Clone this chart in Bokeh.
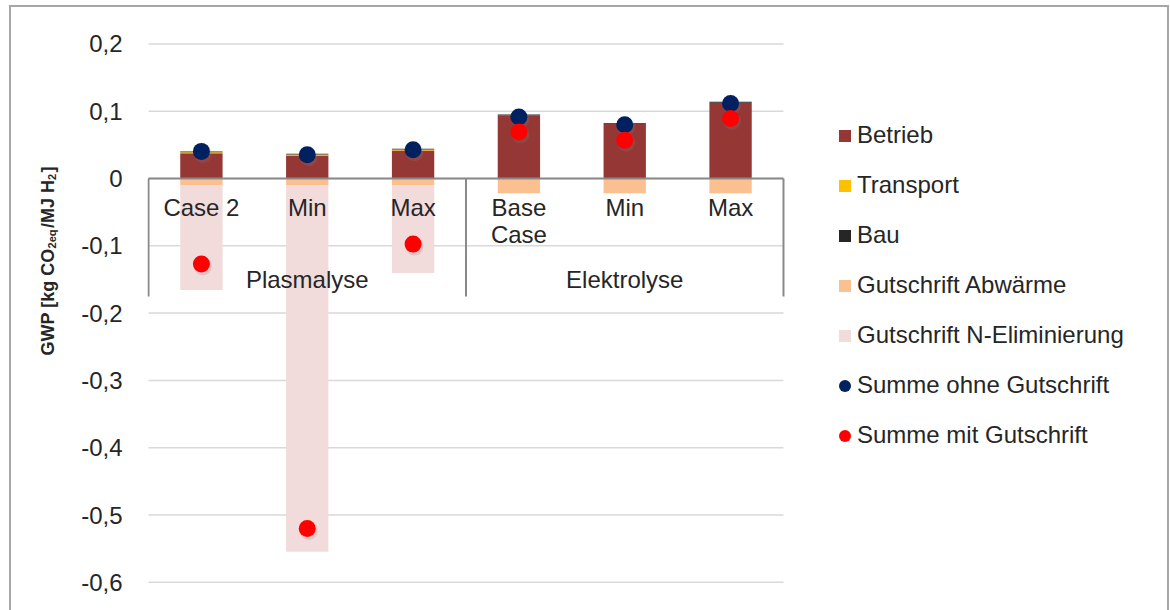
import numpy as np
from bokeh.plotting import figure
from bokeh.layouts import row
from bokeh.models import Range1d, Legend, LegendItem, FixedTicker
from bokeh.core.properties import value
from bokeh.embed import file_html
from bokeh.resources import INLINE

# ---- data -------------------------------------------------------------
groups = ["Plasmalyse", "Elektrolyse"]
cases = ["Case 2", "Min", "Max", "Base\nCase", "Min", "Max"]
betrieb = [0.0376, 0.0340, 0.0416, 0.0938, 0.0813, 0.1127]
transport = [0.0015, 0.0015, 0.0015, 0.0, 0.0, 0.0]
bau = [0.0012, 0.0012, 0.0012, 0.0012, 0.0012, 0.0012]
gutschrift_abwaerme = [-0.0105, -0.0105, -0.0105, -0.0220, -0.0220, -0.0220]
gutschrift_n_elim = [-0.155, -0.544, -0.130, 0.0, 0.0, 0.0]
summe_ohne = [0.0403, 0.0354, 0.0428, 0.0915, 0.0800, 0.1115]
summe_mit = [-0.127, -0.520, -0.0975, 0.069, 0.057, 0.089]
y_ticks = [-0.6, -0.5, -0.4, -0.3, -0.2, -0.1, 0.0, 0.1, 0.2]
y_tick_labels = ["-0,6", "-0,5", "-0,4", "-0,3", "-0,2", "-0,1", "0", "0,1", "0,2"]

FONT = "Liberation Sans"
FS = "24px"
TXT = "#262626"
BORDER = "#a6a6a6"

# page geometry (pixels): the row sits inside a thin frame line
ORIG_X, ORIG_Y = 11, 7          # top-left of the row content
RIGHT_X, BOTTOM_Y = 1167, 610
SPLIT_X = 75                    # title strip | chart
FRAME_X = 147                   # left edge of the plotting area
X0_PX, PX_X = 148.0, 105.83     # where x=0 sits, pixels per category
Y0_PX, PX_Y = 178.0, 673.0      # where y=0 sits, pixels per unit

# ---- chart ------------------------------------------------------------
p = figure(width=RIGHT_X - SPLIT_X, height=BOTTOM_Y - ORIG_Y,
           x_range=Range1d((FRAME_X - X0_PX) / PX_X, (RIGHT_X - X0_PX) / PX_X),
           y_range=Range1d(-(BOTTOM_Y - Y0_PX) / PX_Y, (Y0_PX - ORIG_Y) / PX_Y),
           output_backend="svg", toolbar_location=None, x_axis_location=None,
           min_border=0, min_border_left=FRAME_X - SPLIT_X)
p.background_fill_color = "white"
p.border_fill_color = "white"
p.outline_line_color = None
p.grid.visible = False

yax = p.yaxis[0]
yax.ticker = FixedTicker(ticks=y_ticks)
yax.major_label_overrides = dict(zip(y_ticks, y_tick_labels))
yax.axis_line_color = None
yax.major_tick_line_color = None
yax.minor_tick_line_color = None
yax.major_label_standoff = 19
yax.major_label_text_font = FONT
yax.major_label_text_font_size = FS
yax.major_label_text_color = TXT

n = len(cases)
x = np.arange(n) + 0.5

# horizontal gridlines across the category area only
p.segment(x0=[0] * len(y_ticks), x1=[n] * len(y_ticks), y0=y_ticks, y1=y_ticks,
          line_color="#d9d9d9", line_width=1.5)

# ---- stacked bars -----------------------------------------------------
b = np.array(betrieb)
t_top = b + np.array(transport)
bau_top = t_top + np.array(bau)
a = np.array(gutschrift_abwaerme)
n_bot = a + np.array(gutschrift_n_elim)
BW = 0.4

r_betrieb = p.vbar(x=x, width=BW, bottom=0, top=b, fill_color="#953735", line_color=None)
r_transport = p.vbar(x=x, width=BW, bottom=b, top=t_top, fill_color="#ffc000", line_color=None)
r_bau = p.vbar(x=x, width=BW, bottom=t_top, top=bau_top, fill_color="#262626", line_color=None)
r_abw = p.vbar(x=x, width=BW, bottom=a, top=0, fill_color="#fac090", line_color=None)
r_nel = p.vbar(x=x, width=BW, bottom=n_bot, top=a, fill_color="#f2dcdb", line_color=None)

# category axis through the zero line, with group separators
sep_depth = 118 / PX_Y
p.segment(x0=[0], x1=[n], y0=[0], y1=[0], line_color="#898989", line_width=2)
p.segment(x0=[0, n / 2, n], y0=[0, 0, 0], x1=[0, n / 2, n], y1=[-sep_depth] * 3,
          line_color="#898989", line_width=2)
p.text(x=x, y=[0] * n, text=cases, text_align="center", text_baseline="top",
       y_offset=15, text_font=value(FONT), text_font_size=FS, text_color=TXT,
       text_line_height=1.02)
p.text(x=[n / 4, 3 * n / 4], y=[0, 0], text=groups, text_align="center",
       text_baseline="middle", y_offset=101, text_font=value(FONT),
       text_font_size=FS, text_color=TXT)

# ---- totals as dots, with a soft drop shadow ----------------------------
dx, dy = 1.5 / PX_X, 2.5 / PX_Y
for vals in (summe_ohne, summe_mit):
    p.ellipse(x + dx, np.array(vals) - dy, width=18, height=18,
              width_units="screen", height_units="screen",
              fill_color="#7f7f7f", fill_alpha=0.22, line_color=None)
r_ohne = p.ellipse(x, summe_ohne, width=17, height=17, width_units="screen",
                   height_units="screen", fill_color="#002060", line_color=None)
r_mit = p.ellipse(x, summe_mit, width=17, height=17, width_units="screen",
                  height_units="screen", fill_color="#ff0000", line_color=None)

# ---- legend -------------------------------------------------------------
legend = Legend(items=[LegendItem(label="Betrieb", renderers=[r_betrieb]),
                       LegendItem(label="Transport", renderers=[r_transport]),
                       LegendItem(label="Bau", renderers=[r_bau]),
                       LegendItem(label="Gutschrift Abwärme", renderers=[r_abw]),
                       LegendItem(label="Gutschrift N-Eliminierung", renderers=[r_nel]),
                       LegendItem(label="Summe ohne Gutschrift", renderers=[r_ohne]),
                       LegendItem(label="Summe mit Gutschrift", renderers=[r_mit])],
                location=(690, 161), glyph_width=15, glyph_height=15,
                label_height=26, label_standoff=5, spacing=22,
                padding=0, margin=0, border_line_color=None, background_fill_alpha=0,
                label_text_font=FONT, label_text_font_size=FS, label_text_color=TXT)
p.add_layout(legend)

# ---- y axis title strip (with subscripts) ------------------------------
t = figure(width=SPLIT_X - ORIG_X, height=BOTTOM_Y - ORIG_Y,
           x_range=Range1d(ORIG_X, SPLIT_X), y_range=Range1d(BOTTOM_Y, ORIG_Y),
           output_backend="svg", toolbar_location=None,
           x_axis_location=None, y_axis_location=None, min_border=0)
t.outline_line_color = None
t.grid.visible = False
t.background_fill_color = "white"
t.border_fill_color = "white"

# Arial-bold advance widths (per em) for the characters in the title
adv = {"G": .778, "W": .944, "P": .667, " ": .278, "[": .333, "k": .556, "g": .611,
       "C": .722, "O": .778, "/": .278, "M": .833, "J": .556, "H": .722, "]": .333,
       "2": .556, "e": .556, "q": .611}
pieces = [("GWP [kg CO", 18, False), ("2eq", 11, True), ("/MJ H", 18, False),
          ("2", 11, True), ("]", 18, False)]
pos = 355.0
for txt, fs, sub in pieces:
    t.text(x=[51 if sub else 47], y=[pos], text=[txt], angle=np.pi / 2,
           text_align="left", text_baseline="alphabetic", text_font=value(FONT),
           text_font_size=f"{fs}px", text_font_style="bold", text_color=TXT)
    pos -= sum(adv[c] for c in txt) * fs + (1.5 if sub else 0)

layout = row(t, p, styles={"margin-left": "9px", "margin-top": "5px",
                           "border-left": f"2px solid {BORDER}",
                           "border-top": f"2px solid {BORDER}",
                           "border-right": f"2px solid {BORDER}"})

open("out.html", "w").write(file_html(layout, INLINE))
